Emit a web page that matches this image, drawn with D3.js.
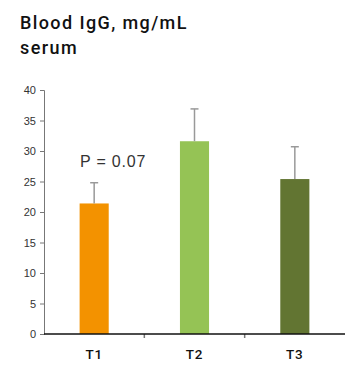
<!DOCTYPE html>
<html>
<head>
<meta charset="utf-8">
<script src="https://cdn.jsdelivr.net/npm/d3@7"></script>
<style>
  body { margin: 0; background: #fff; }
  svg { display: block; font-family: Roboto, sans-serif; }
</style>
</head>
<body>
<div id="chart"></div>
<script>
const groups = ["T1", "T2", "T3"]
const means = [21.4, 31.6, 25.4]
const errors = [3.4, 5.3, 5.3]
const barColors = ["#f39200", "#95c355", "#627532"]
const yTicks = [0, 5, 10, 15, 20, 25, 30, 35, 40]

const width = 345
const height = 365
const margin = {top: 90, right: 0, bottom: 31, left: 44}

const svg = d3.select("#chart")
    .append("svg")
    .attr("width", width)
    .attr("height", height)

// title
const title = svg.append("g")
    .attr("font-size", 18)
    .attr("font-weight", 500)
    .attr("letter-spacing", 1.4)
    .attr("fill", "#111")
title.append("text").attr("x", 20).attr("y", 29).text("Blood IgG, mg/mL")
title.append("text").attr("x", 20).attr("y", 54).text("serum")

const x = d3.scaleBand()
    .domain(groups)
    .range([margin.left, width - margin.right])
    .paddingInner(0.71)
    .paddingOuter(0.355)

const y = d3.scaleLinear()
    .domain([0, 40])
    .range([height - margin.bottom, margin.top])

// y axis
const yAxis = svg.append("g")
    .attr("transform", `translate(${margin.left},0)`)
    .call(d3.axisLeft(y).tickValues(yTicks).tickSize(4).tickPadding(4))
yAxis.selectAll("path, line").attr("stroke", "#777")
yAxis.selectAll("text").attr("font-size", 11).attr("fill", "#333")

// bars
svg.append("g")
    .selectAll("rect")
    .data(groups)
    .join("rect")
    .attr("x", d => x(d))
    .attr("y", (d, i) => y(means[i]))
    .attr("width", x.bandwidth())
    .attr("height", (d, i) => y(0) - y(means[i]))
    .attr("fill", (d, i) => barColors[i])

// error bars
const err = svg.append("g")
    .attr("stroke", "#999")
    .attr("stroke-width", 1.5)
err.selectAll("line.v")
    .data(groups)
    .join("line")
    .attr("class", "v")
    .attr("x1", d => x(d) + x.bandwidth() / 2)
    .attr("x2", d => x(d) + x.bandwidth() / 2)
    .attr("y1", (d, i) => y(means[i]))
    .attr("y2", (d, i) => y(means[i] + errors[i]))
err.selectAll("line.cap")
    .data(groups)
    .join("line")
    .attr("class", "cap")
    .attr("x1", d => x(d) + x.bandwidth() / 2 - 4)
    .attr("x2", d => x(d) + x.bandwidth() / 2 + 4)
    .attr("y1", (d, i) => y(means[i] + errors[i]))
    .attr("y2", (d, i) => y(means[i] + errors[i]))

// x axis: tick marks at band boundaries
const bounds = groups.slice(1).map(g => x(g) - x.step() * x.paddingInner() / 2)
svg.append("g")
    .selectAll("line")
    .data(bounds)
    .join("line")
    .attr("x1", d => d)
    .attr("x2", d => d)
    .attr("y1", y(0))
    .attr("y2", y(0) + 4)
    .attr("stroke", "#777")
    .attr("stroke-width", 1.5)

svg.append("line")
    .attr("x1", margin.left)
    .attr("x2", width)
    .attr("y1", y(0))
    .attr("y2", y(0))
    .attr("stroke", "#111")
    .attr("stroke-width", 1.5)

svg.append("g")
    .selectAll("text")
    .data(groups)
    .join("text")
    .attr("x", d => x(d) + x.bandwidth() / 2)
    .attr("y", 359)
    .attr("text-anchor", "middle")
    .attr("font-size", 13.5)
    .attr("font-weight", 500)
    .attr("letter-spacing", 0.8)
    .attr("fill", "#111")
    .text(d => d)

// p-value note
svg.append("text")
    .attr("x", 80)
    .attr("y", 167)
    .attr("font-family", "'Liberation Sans', Arial, sans-serif")
    .attr("font-size", 16)
    .attr("letter-spacing", 0.8)
    .attr("fill", "#333")
    .text("P = 0.07")
</script>
</body>
</html>
